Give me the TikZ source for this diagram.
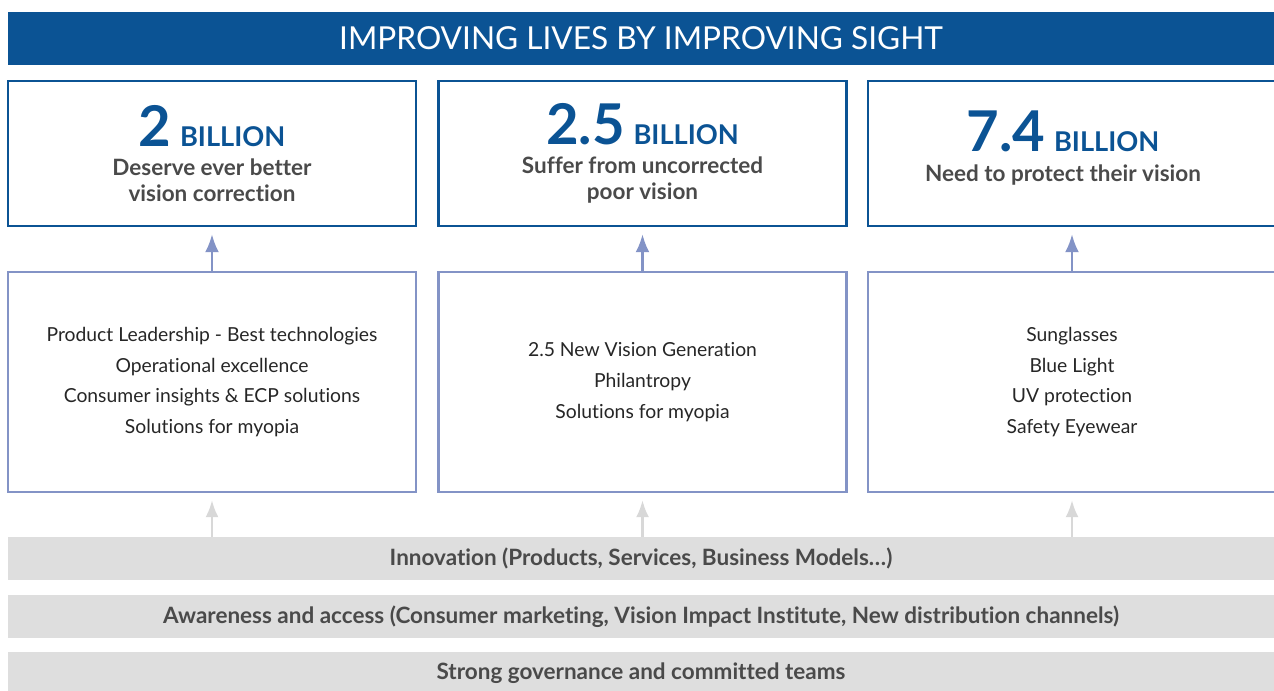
\documentclass[tikz,border=0pt]{standalone}
\usepackage{fontspec}
\setmainfont{Lato}[Ligatures=NoCommon]
\usetikzlibrary{arrows.meta,positioning}
\definecolor{sightblue}{HTML}{0B5394}
\definecolor{sightlight}{HTML}{8393C6}
\definecolor{sightgrey}{HTML}{DEDEDE}
\definecolor{sightarrow}{HTML}{D8D8D8}
\definecolor{sighttext}{HTML}{4A4A4A}
\newcommand{\bignum}{\fontsize{32}{34}\selectfont\bfseries}
\newcommand{\bigword}{\fontsize{15.5}{18}\selectfont\bfseries}

\begin{document}
\begin{tikzpicture}[x=0.02cm,y=-0.02cm,
  topbox/.style={draw=sightblue,line width=1.4pt,minimum width=8.16cm,minimum height=2.9cm,
    align=center,inner sep=0pt,text=sighttext,font=\fontsize{12.8}{14.7}\selectfont\bfseries},
  midbox/.style={draw=sightlight,line width=1.3pt,minimum width=8.16cm,minimum height=4.4cm,
    align=center,inner sep=0pt,text=black!85,font=\fontsize{11}{17.5}\selectfont},
  basebar/.style={fill=sightgrey,minimum width=25.32cm,minimum height=0.86cm,inner sep=0pt,
    text=sighttext,font=\fontsize{12.8}{14}\selectfont\bfseries},
  uparrow/.style={draw=sightlight,line width=1.4pt,-{Latex[length=3.6mm,width=2.8mm]}},
  greyarrow/.style={draw=sightarrow,line width=1.4pt,-{Latex[length=3.4mm,width=2.6mm]}}]
  \useasboundingbox (0,0) rectangle (1274,690);

  % title band
  \node[fill=sightblue,minimum width=25.32cm,minimum height=1.06cm,inner sep=0pt,
    text=white,font=\fontsize{18}{20}\selectfont] (title) at (641,38.5) {IMPROVING LIVES BY IMPROVING SIGHT};

  % needs
  \node[topbox] (need1) at (212,153.5) {{\color{sightblue}\bignum 2\kern5pt\bigword BILLION}\\[2pt]Deserve ever better\\vision correction};
  \node[topbox] (need2) at (642.5,153.5) {{\color{sightblue}\bignum 2.5\kern5pt\bigword BILLION}\\[2pt]Suffer from uncorrected\\poor vision};
  \node[topbox] (need3) at (1072,153.5) {};
  \node[align=center,inner sep=0pt,text=sighttext,font=\fontsize{12.8}{14.7}\selectfont\bfseries] (need3txt) at (1063,148)
    {{\color{sightblue}\bignum 7.4\kern5pt\bigword BILLION}\\[2pt]Need to protect their vision};

  % levers
  \node[midbox] (lever1) at (212,382) {Product Leadership - Best technologies\\Operational excellence\\Consumer insights \& ECP solutions\\Solutions for myopia};
  \node[midbox] (lever2) at (642.5,382) {2.5 New Vision Generation\\Philantropy\\Solutions for myopia};
  \node[midbox] (lever3) at (1072,382) {Sunglasses\\Blue Light\\UV protection\\Safety Eyewear};

  % foundations
  \node[basebar] (innov) at (641,558.5) {Innovation (Products, Services, Business Models\dots)};
  \node[basebar] (aware) at (641,616.5) {Awareness and access (Consumer marketing, Vision Impact Institute, New distribution channels)};
  \node[basebar] (govern) at (641,673.5) {Strong governance and committed teams};

  \foreach \i in {1,2,3}{
    \draw[uparrow,shorten >=4pt] (lever\i.north) -- (need\i.south);
    \draw[greyarrow,shorten >=4pt] (innov.north -| lever\i) -- (lever\i.south);
  }
\end{tikzpicture}
\end{document}
